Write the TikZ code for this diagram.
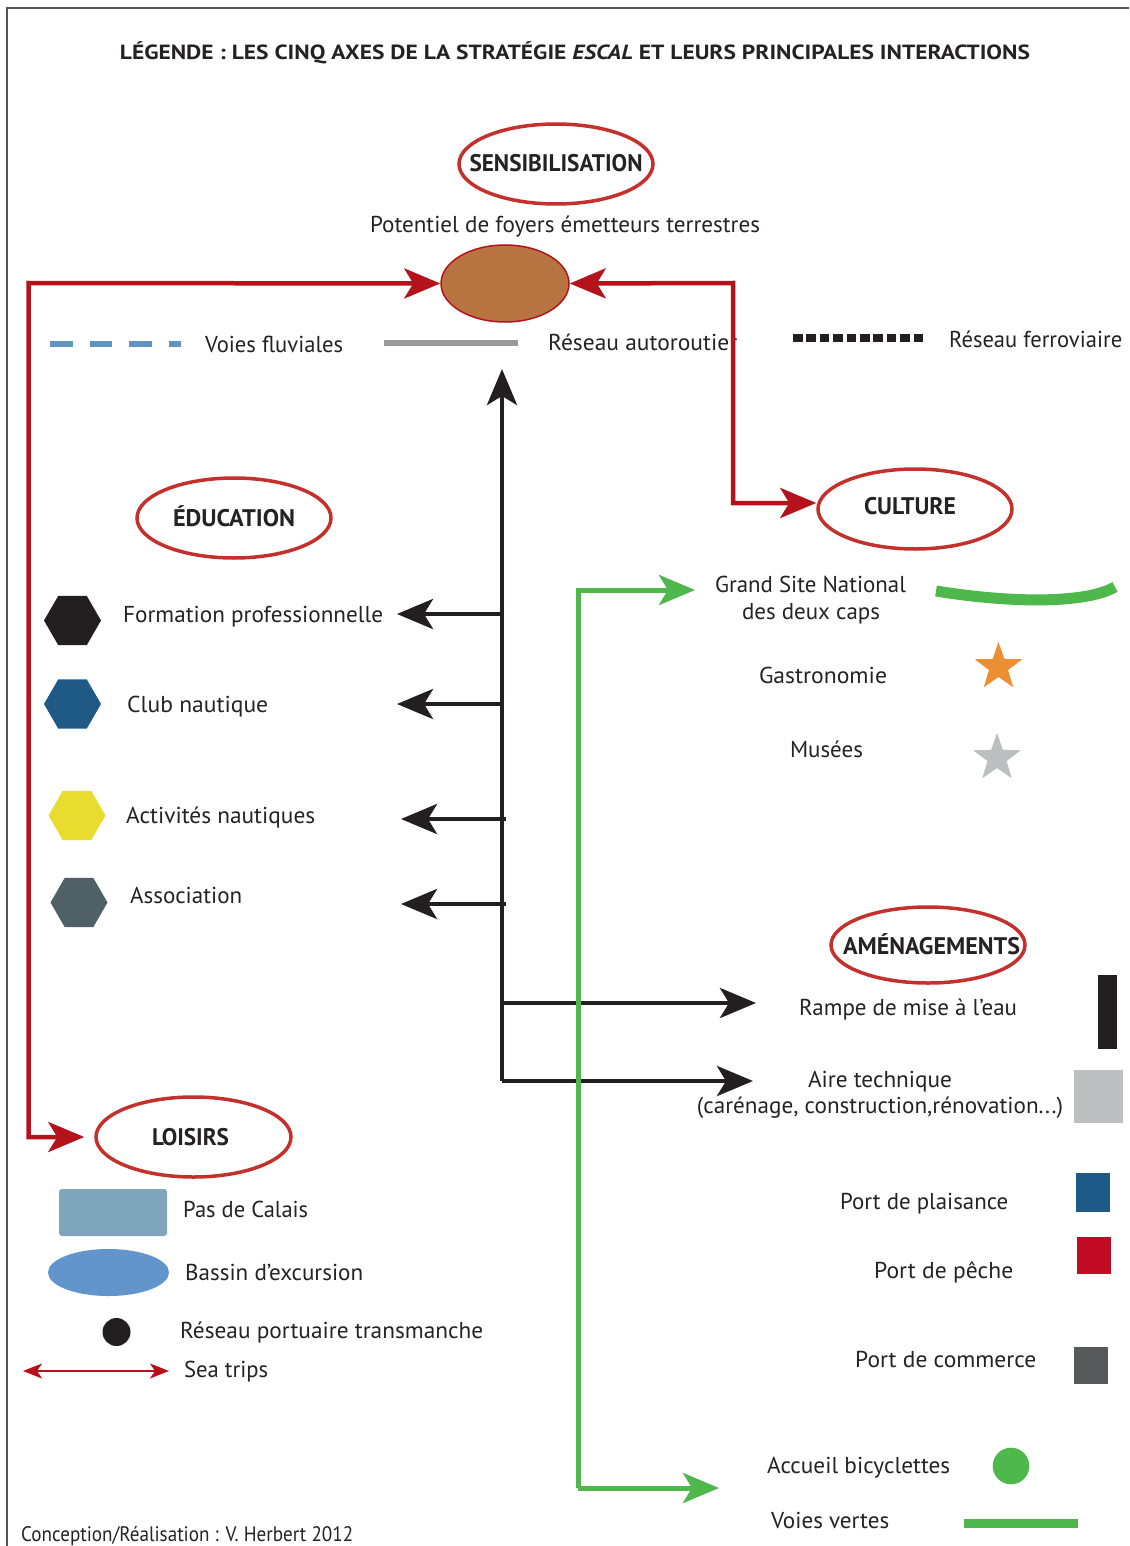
\documentclass[tikz,border=0pt]{standalone}
\usepackage{graphicx}
\usepackage{fontspec}
\setmainfont{PT Sans}
\usetikzlibrary{shapes.geometric,arrows.meta}

% text squeezed or stretched horizontally to a given width (in pt), height kept
\newcommand{\fitto}[2]{\resizebox{#1pt}{\height}{#2}}

\definecolor{ink}{HTML}{262223}
\definecolor{axisred}{HTML}{C4302B}
\definecolor{linkred}{HTML}{B5121B}
\definecolor{brownfill}{HTML}{B87440}
\definecolor{greenway}{HTML}{4FB84D}
\definecolor{blackline}{HTML}{231F20}
\definecolor{fluvial}{HTML}{5F95C1}
\definecolor{motorway}{HTML}{97999C}
\definecolor{hexblue}{HTML}{1F5A86}
\definecolor{hexyellow}{HTML}{E8DC2F}
\definecolor{hexslate}{HTML}{4F6166}
\definecolor{starorange}{HTML}{EC8F32}
\definecolor{silver}{HTML}{BCBEC0}
\definecolor{portblue}{HTML}{1D5A88}
\definecolor{portred}{HTML}{C10B25}
\definecolor{portgray}{HTML}{58595B}
\definecolor{straitblue}{HTML}{7EA5BC}
\definecolor{basinblue}{HTML}{6195CC}
\definecolor{framegray}{HTML}{555555}

\tikzset{
  txt/.style={inner sep=0pt, text=ink, font=\fontsize{23}{27}\selectfont},
  axetxt/.style={inner sep=0pt, text=ink, font=\fontsize{24}{28}\selectfont\bfseries},
  axering/.style={ellipse, draw=axisred, line width=3.5pt, inner sep=0pt},
  bighead/.tip={Stealth[length=36pt,width=30pt,inset=9pt]},
  redlink/.style={draw=linkred, line width=4.5pt, {bighead}-{bighead}},
  blacklink/.style={draw=blackline, line width=4.5pt, -{bighead}},
  greenlink/.style={draw=greenway, line width=5pt, -{bighead}},
  hexa/.style={regular polygon, regular polygon sides=6, minimum size=57pt, inner sep=0pt, draw=none},
  fivestar/.style={star, star points=5, star point ratio=2.5, minimum size=50pt, inner sep=0pt, draw=none},
}

\begin{document}
\begin{tikzpicture}[x=1pt, y=-1pt]
\useasboundingbox (0,0) rectangle (1129,1546);
\fill[white] (0,0) rectangle (1129,1546);

% frame
\draw[framegray, line width=2pt] (7,1546) -- (7,8) -- (1129,8);

% title
\node[inner sep=0pt, text=ink, anchor=base] (title) at (575,59.5)
  {\fitto{910}{\fontsize{20.5}{24}\selectfont\bfseries LÉGENDE : LES CINQ AXES DE LA STRATÉGIE \textit{ESCAL} ET LEURS PRINCIPALES INTERACTIONS}};

% ---- SENSIBILISATION ----
\node[axering, minimum width=194pt, minimum height=80pt] (sens) at (556,164) {};
\node[axetxt, anchor=base] (senstxt) at (556,172) {\fitto{173}{SENSIBILISATION}};
\node[txt, anchor=base] (foyertxt) at (565,233) {\fitto{390}{Potentiel de foyers émetteurs terrestres}};
\node[ellipse, fill=brownfill, draw=linkred, line width=1.5pt, minimum width=128pt, minimum height=77pt, inner sep=0pt] (foyer) at (505,283.5) {};

% network lines
\coordinate (fl1) at (50,344);
\coordinate (fl2) at (181,344);
\draw[fluvial, line width=6.5pt, dash pattern=on 22.5pt off 17pt] (fl1) -- (fl2);
\node[txt, anchor=base west] (fluvtxt) at (205,352) {\fitto{138}{Voies fluviales}};
\coordinate (ar1) at (384,343);
\coordinate (ar2) at (518,343);
\draw[motorway, line width=6.5pt] (ar1) -- (ar2);
\node[txt, anchor=base west] (autotxt) at (548,350) {\fitto{189}{Réseau autoroutier}};
\coordinate (fe1) at (793,338);
\coordinate (fe2) at (923,338);
\draw[blackline, line width=8pt, dash pattern=on 9.5pt off 3.9pt] (fe1) -- (fe2);
\node[txt, anchor=base west] (fertxt) at (949,347) {\fitto{173}{Réseau ferroviaire}};

% ---- EDUCATION ----
\node[axering, minimum width=194pt, minimum height=80pt] (educ) at (234,518) {};
\node[axetxt, anchor=base] (eductxt) at (234,526) {\fitto{122}{ÉDUCATION}};

\node[hexa, fill=blackline] (hex1) at (72.5,620.5) {};
\node[hexa, fill=hexblue] (hex2) at (72.5,704) {};
\node[hexa, fill=hexyellow] (hex3) at (77,815.5) {};
\node[hexa, fill=hexslate] (hex4) at (79,902.5) {};
\node[txt, anchor=base west] (formtxt) at (123,622) {\fitto{260}{Formation professionnelle}};
\node[txt, anchor=base west] (clubtxt) at (127,712) {\fitto{141}{Club nautique}};
\node[txt, anchor=base west] (acttxt) at (126,823) {\fitto{189}{Activités nautiques}};
\node[txt, anchor=base west] (asstxt) at (130,903) {\fitto{112}{Association}};

% ---- CULTURE ----
\node[axering, minimum width=194pt, minimum height=80pt] (culture) at (915,509) {};
\node[axetxt, anchor=base] (culttxt) at (910,514) {\fitto{92}{CULTURE}};
\node[txt, anchor=base] (gsn1) at (810.5,592) {\fitto{191}{Grand Site National}};
\node[txt, anchor=base] (gsn2) at (811,619) {\fitto{138}{des deux caps}};
\draw[greenway, line width=11pt] (936,591) .. controls (1010,603) and (1085,604) .. (1115,587);
\node[txt, anchor=base] (gasttxt) at (823,683) {\fitto{128}{Gastronomie}};
\node[fivestar, fill=starorange] (star1) at (998.5,667) {};
\node[txt, anchor=base] (mustxt) at (826.5,757) {\fitto{73}{Musées}};
\node[fivestar, fill=silver] (star2) at (997,758) {};

% ---- AMENAGEMENTS ----
\node[axering, minimum width=194pt, minimum height=76pt] (amen) at (928,945) {};
\node[axetxt, anchor=base] (amentxt) at (931.5,954) {\fitto{177}{AMÉNAGEMENTS}};
\node[txt, anchor=base] (rampetxt) at (908,1015) {\fitto{218}{Rampe de mise à l’eau}};
\fill[blackline] (1098,975) rectangle (1117,1049);
\node[txt, anchor=base] (airetxt) at (880,1087) {\fitto{144}{Aire technique}};
\node[txt, anchor=base] (airetxt2) at (880,1113) {\fitto{366}{(carénage, construction,rénovation...)}};
\fill[silver] (1074,1070) rectangle (1123,1123);
\node[txt, anchor=base west] (plaistxt) at (840,1209) {\fitto{168}{Port de plaisance}};
\fill[portblue] (1076,1173) rectangle (1110,1212);
\node[txt, anchor=base west] (pechetxt) at (874,1278) {\fitto{139}{Port de pêche}};
\fill[portred] (1077,1237) rectangle (1111,1274);
\node[txt, anchor=base west] (commtxt) at (855,1367) {\fitto{181}{Port de commerce}};
\fill[portgray] (1074,1347) rectangle (1108,1384);
\node[txt, anchor=base west] (bicytxt) at (767,1473) {\fitto{183}{Accueil bicyclettes}};
\fill[greenway] (1011,1466) circle[radius=18.3pt];
\node[txt, anchor=base west] (vvtxt) at (771,1528) {\fitto{118}{Voies vertes}};
\fill[greenway] (964,1519) rectangle (1078,1528);

% ---- LOISIRS ----
\node[axering, minimum width=195pt, minimum height=80pt] (loisirs) at (193.5,1137) {};
\node[axetxt, anchor=base] (loistxt) at (190.5,1145) {\fitto{77}{LOISIRS}};
\fill[straitblue, rounded corners=3pt] (59,1189) rectangle (167,1236);
\node[txt, anchor=base west] (pdctxt) at (183,1217) {\fitto{125}{Pas de Calais}};
\fill[basinblue] (108.5,1272.5) ellipse[x radius=60.5pt, y radius=23.5pt];
\node[txt, anchor=base west] (bassintxt) at (185,1280) {\fitto{178}{Bassin d’excursion}};
\fill[blackline] (116.5,1332) circle[radius=14pt];
\node[txt, anchor=base west] (porttxt) at (180,1338) {\fitto{303}{Réseau portuaire transmanche}};
\coordinate (st1) at (23,1371);
\coordinate (st2) at (169,1371);
\draw[linkred, line width=2pt, {Stealth[length=19pt,width=15pt,inset=5pt]}-{Stealth[length=19pt,width=15pt,inset=5pt]}] (st1) -- (st2);
\node[txt, anchor=base west] (seatxt) at (184,1377) {\fitto{84}{Sea trips}};
\node[inner sep=0pt, text=ink, anchor=base west, font=\fontsize{21}{25}\selectfont] (credit) at (21,1541)
  {\fitto{332}{Conception/Réalisation : V. Herbert 2012}};

% ---- black links from the central trunk ----
\coordinate (trunkbot) at (502,1081);
\coordinate (trunktop) at (502,369);
\draw[blacklink] (trunkbot) -- (trunktop);
\coordinate (b1) at (502,614);
\coordinate (b2) at (502,704);
\coordinate (b3) at (506,819);
\coordinate (b4) at (506,904);
\coordinate (t1) at (397,614);
\coordinate (t2) at (397,704);
\coordinate (t3) at (401,819);
\coordinate (t4) at (401,904);
\draw[blacklink] (b1) -- (t1);
\draw[blacklink] (b2) -- (t2);
\draw[blacklink] (b3) -- (t3);
\draw[blacklink] (b4) -- (t4);
\coordinate (b5) at (502,1003);
\coordinate (t5) at (756,1003);
\draw[blacklink] (b5) -- (t5);
\draw[blacklink] (trunkbot) -- (753,1081);

% ---- green links ----
\coordinate (gtop) at (578,590);
\coordinate (gbot) at (578,1488);
\coordinate (gt1) at (695,590);
\coordinate (gt2) at (719,1488);
\draw[greenlink] (gbot) -- (gtop) -- (gt1);
\draw[greenlink] (gbot) -- (gt2);

% ---- red links ----
\coordinate (redleft) at (28.5,283);
\coordinate (redright) at (733,283);
\draw[redlink, shorten >=10pt] (foyer.west) -- (redleft) |- (loisirs.west);
\draw[redlink] (foyer.east) -- (redright) |- ([yshift=6pt]culture.west);
\end{tikzpicture}
\end{document}
